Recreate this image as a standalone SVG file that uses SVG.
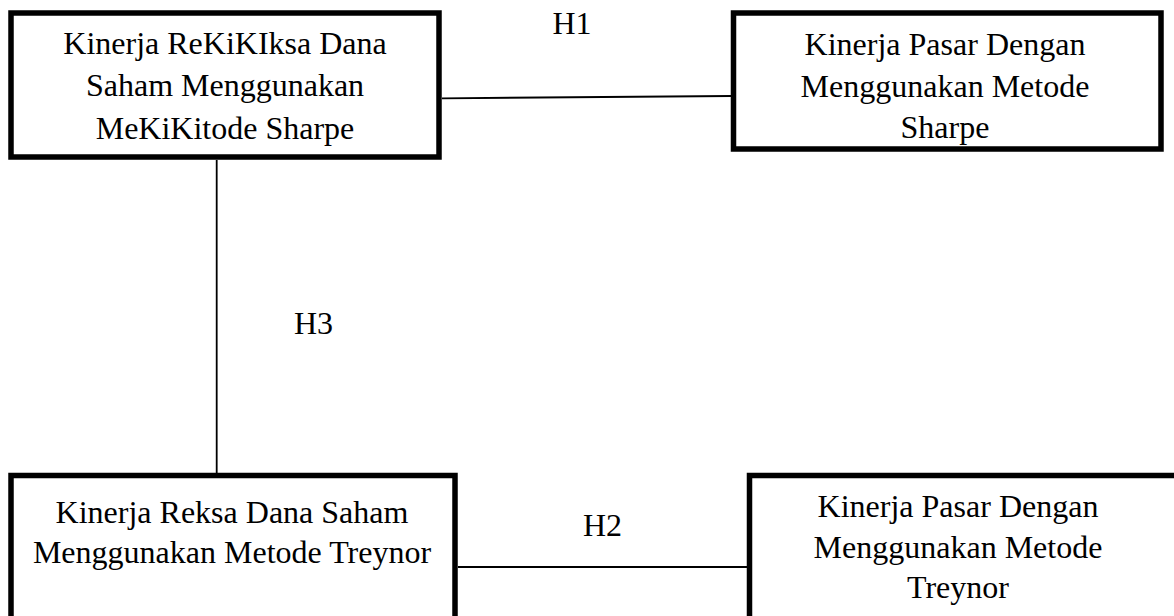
<svg xmlns="http://www.w3.org/2000/svg" width="1174" height="616" viewBox="0 0 1174 616">
<style>
.box{fill:#fff;stroke:#000;stroke-width:5.5}
.t{font-family:"Liberation Serif","Times New Roman",serif;font-size:32px;fill:#000;text-anchor:middle}
.c{stroke:#000;stroke-width:1.8;fill:none}
</style>
<rect width="1174" height="616" fill="#fff"/>
<g id="connectors">
<line class="c" x1="442" y1="98.3" x2="731" y2="96"/>
<line class="c" x1="216.7" y1="160" x2="216.7" y2="473"/>
<line class="c" x1="458" y1="567" x2="747" y2="567"/>
</g>
<g id="labels">
<text class="t" x="572" y="34">H1</text>
<text class="t" x="313.5" y="334">H3</text>
<text class="t" x="602.5" y="536">H2</text>
</g>
<g id="node-reksa-sharpe">
<rect class="box" x="11" y="13" width="428" height="144"/>
<text class="t" x="225" y="53.5">Kinerja ReKiKIksa Dana</text>
<text class="t" x="225" y="96">Saham Menggunakan</text>
<text class="t" x="225" y="138.5">MeKiKitode Sharpe</text>
</g>
<g id="node-pasar-sharpe">
<rect class="box" x="733.5" y="13" width="427.5" height="136"/>
<text class="t" x="945" y="54.5">Kinerja Pasar Dengan</text>
<text class="t" x="945" y="96.5">Menggunakan Metode</text>
<text class="t" x="945" y="138">Sharpe</text>
</g>
<g id="node-reksa-treynor">
<rect class="box" x="11" y="475.5" width="444" height="160"/>
<text class="t" x="232" y="522.7">Kinerja Reksa Dana Saham</text>
<text class="t" x="232" y="562.5">Menggunakan Metode Treynor</text>
</g>
<g id="node-pasar-treynor">
<rect class="box" x="749.5" y="475.5" width="440" height="160"/>
<text class="t" x="958" y="516.7">Kinerja Pasar Dengan</text>
<text class="t" x="958" y="557.5">Menggunakan Metode</text>
<text class="t" x="958" y="598">Treynor</text>
</g>
</svg>
